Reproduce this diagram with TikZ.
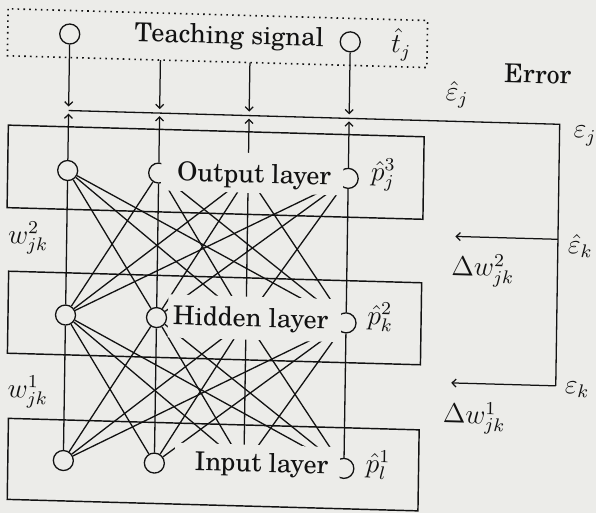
\documentclass[tikz,border=0pt]{standalone}
\usepackage{fontspec}
\setmainfont{TeX Gyre Schola}
\usetikzlibrary{arrows.meta}
\definecolor{paper}{RGB}{236,236,233}
\definecolor{ink}{RGB}{18,18,18}
\tikzset{
  neuron/.style={circle, draw=ink, line width=1.3pt, minimum size=20pt, inner sep=0pt},
  conn/.style={draw=ink, line width=1.3pt},
  boxline/.style={draw=ink, line width=1.45pt},
  dotbox/.style={draw=ink, line width=1.6pt, dash pattern=on 1.6pt off 4.2pt},
  sig/.style={draw=ink, line width=1.25pt, -{Straight Barb[length=4pt,width=8pt]}},
  lbl/.style={fill=paper, inner xsep=0pt, inner ysep=4pt, anchor=base, text=ink},
  txt/.style={inner sep=0pt, text=ink},
  mlbl/.style={inner sep=0pt, text=ink, font=\fontsize{12}{14}\selectfont, scale=2.3},
}
\begin{document}
\begin{tikzpicture}[x=1pt,y=-1pt,font=\fontsize{26}{31}\selectfont]
\fill[paper] (0,0) rectangle (596,513);
\useasboundingbox (0,0) rectangle (596,513);
\begin{scope}[shift={(298pt,-256pt)}, cm={1,-0.028,0.015,1,(0,0)}, shift={(-298pt,256pt)}, transform shape]
  % layer boxes
  \draw[dotbox] (4.5,17) rectangle (424,64);
  \draw[boxline] (6.5,133.3) rectangle (422.3,215.8);
  \draw[boxline] (9,279.3) rectangle (422,361.3);
  \draw[boxline] (11,426.4) rectangle (421.7,507.4);
  % neurons
  \node[neuron] (t1) at (66.5,40.5) {};
  \node[neuron] (t4) at (347,40.5) {};
  \foreach \i/\x in {1/66.5,2/157.5,3/247,4/347} {
    \node[neuron] (o\i) at (\x,177) {};
    \node[neuron] (h\i) at (\x,321.5) {};
    \node[neuron] (n\i) at (\x,467) {};
    \coordinate (d\i) at (\x,113);
    \coordinate (u\i) at (\x,120);
    \coordinate (b\i) at (\x,64);
  }
  % full connections
  \foreach \i in {1,...,4} {
    \foreach \j in {1,...,4} {
      \draw[conn] (o\i) -- (h\j);
      \draw[conn] (h\i) -- (n\j);
    }
  }
  % error path
  \coordinate (e1) at (66.5,117);
  \coordinate (eR) at (557.5,117);
  \coordinate (eB) at (557.5,378.5);
  \coordinate (aB) at (453,378.5);
  \coordinate (eM) at (557.5,232);
  \coordinate (aM) at (455,232);
  \draw[conn] (e1) -- (eR) -- (eB);
  \draw[sig] (eB) -- (aB);
  \draw[sig] (eM) -- (aM);
  % teaching signal arrows (down) and output arrows (up)
  \draw[sig] (t1) -- (d1);
  \draw[sig] (b2) -- (d2);
  \draw[sig] (b3) -- (d3);
  \draw[sig] (t4) -- (d4);
  \foreach \i in {1,...,4} { \draw[sig] (o\i) -- (u\i); }
  % layer labels (mask lines behind them)
  \node[lbl, text height=26pt, text depth=6pt] (lout) at (251,184.2) {\makebox[182pt][l]{\hspace*{16pt}Output layer}};
  \node[lbl, text height=26pt, text depth=9pt] (lhid) at (255.5,328) {\makebox[173pt][l]{\hspace*{5pt}Hidden layer}};
  \node[lbl, text height=23pt, text depth=8pt] (linp) at (260.5,473) {\makebox[165pt][l]{\hspace*{20pt}Input layer}};
  % texts
  \node[txt, anchor=base] (ts) at (226,46) {Teaching signal};
  \node[mlbl] (tj) at (398,42) {$\hat{t}_j$};
  \node[txt, anchor=base] (err) at (535,76.5) {Error};
  \node[mlbl] (ehj) at (454.5,90.7) {$\hat{\varepsilon}_j$};
  \node[mlbl] (ej) at (583,128) {$\varepsilon_j$};
  \node[mlbl] (ehk) at (580,238) {$\hat{\varepsilon}_k$};
  \node[mlbl] (dw2) at (483,265) {$\Delta w^2_{jk}$};
  \node[mlbl] (ek) at (579,382) {$\varepsilon_k$};
  \node[mlbl] (dw1) at (476.5,413) {$\Delta w^1_{jk}$};
  \node[mlbl] (w2) at (28,245.5) {$w^2_{jk}$};
  \node[mlbl] (w1) at (30,399.6) {$w^1_{jk}$};
  \node[mlbl] (p3) at (382,172.6) {$\hat{p}^3_j$};
  \node[mlbl] (p2) at (381,314.7) {$\hat{p}^2_k$};
  \node[mlbl] (p1) at (381,462.8) {$\hat{p}^1_l$};
\end{scope}
\end{tikzpicture}
\end{document}
